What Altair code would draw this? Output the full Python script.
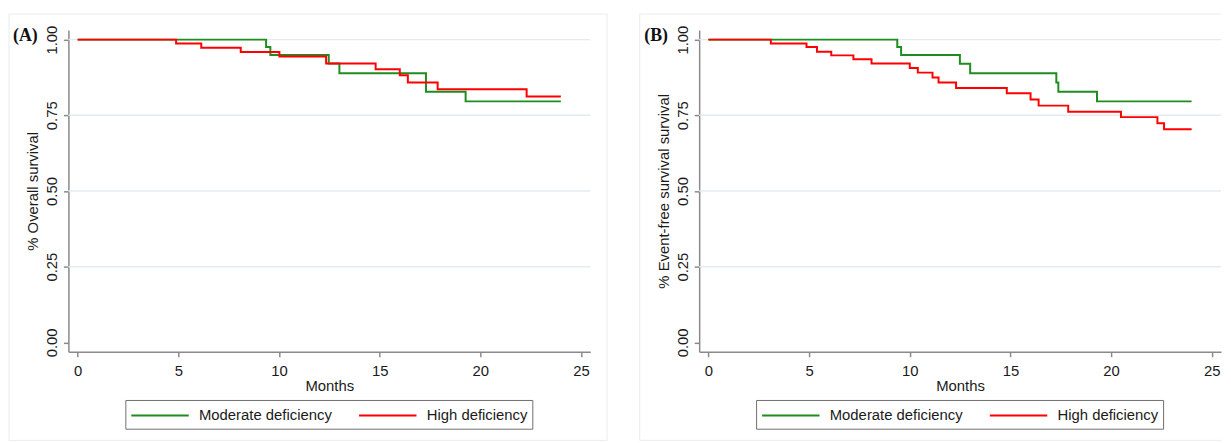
import altair as alt
import pandas as pd

groups = ["Moderate deficiency", "High deficiency"]
colors = ["#1e8c1e", "#ff0000"]

# Panel A: overall survival
a_mod_t = [0, 9.36, 9.57, 12.47, 13.0, 17.3, 19.27, 24.0]
a_mod_s = [1.0, 0.976, 0.949, 0.921, 0.889, 0.828, 0.796, 0.796]
a_high_t = [0, 4.89, 6.14, 8.1, 10.02, 12.34, 14.8, 16.0, 16.4, 17.88, 22.3, 24.0]
a_high_s = [1.0, 0.987, 0.973, 0.959, 0.944, 0.921, 0.902, 0.882, 0.858, 0.836, 0.812, 0.812]

# Panel B: event-free survival
b_mod_t = [0, 9.38, 9.57, 12.49, 13.0, 17.28, 17.38, 19.3, 24.0]
b_mod_s = [1.0, 0.976, 0.949, 0.920, 0.889, 0.858, 0.828, 0.796, 0.796]
b_high_t = [0, 3.1, 4.87, 5.39, 6.1, 7.2, 8.1, 10.0, 10.4, 11.13, 11.43, 12.3,
            14.82, 16.0, 16.4, 17.87, 20.49, 22.3, 22.63, 24.0]
b_high_s = [1.0, 0.987, 0.976, 0.960, 0.948, 0.935, 0.921, 0.906, 0.891, 0.875, 0.858, 0.840,
            0.823, 0.802, 0.782, 0.762, 0.744, 0.724, 0.704, 0.704]

month_ticks = [0, 5, 10, 15, 20, 25]
surv_ticks = [0.0, 0.25, 0.5, 0.75, 1.0]
grid_vals = [0.25, 0.5, 0.75, 1.0]

titles_y = ["% Overall survival", "% Event-free survival survival"]
tags = ["(A)", "(B)"]

W, H = 527, 325
XDOM = [-0.46, 25.46]
YDOM = [-0.031, 1.032]
AXC = "#8a8a8a"
TXT = "#1a1a1a"
FONT = "Liberation Sans"
FRAME = "#e6edf2"

# legend line symbol: nominal box sqrt(size), path drawn 3x as long
SYM = 19.33


def curve_df(mod_t, mod_s, high_t, high_s):
    rows = []
    for g, ts, ss in [(groups[0], mod_t, mod_s), (groups[1], high_t, high_s)]:
        for i, (t, s) in enumerate(zip(ts, ss)):
            rows.append({"group": g, "order": i, "t": t, "s": s})
    return pd.DataFrame(rows)


def panel(df, ytitle, tag, right_frame):
    xs = alt.Scale(domain=XDOM, nice=False, zero=False)
    ys = alt.Scale(domain=YDOM, nice=False, zero=False)
    xaxis = alt.Axis(values=month_ticks, format="d", title="Months",
                     titleFont=FONT, titleFontSize=15, titleFontWeight="normal",
                     titleColor=TXT, titlePadding=0,
                     labelFont=FONT, labelFontSize=15, labelColor=TXT, labelPadding=7,
                     tickSize=5, tickColor=AXC, tickWidth=1.5,
                     domainColor=AXC, domainWidth=1.5, grid=False,
                     labelFlush=False, labelOverlap=False)
    yaxis = alt.Axis(values=surv_ticks, format=".2f", title=ytitle,
                     titleFont=FONT, titleFontSize=15, titleFontWeight="normal",
                     titleColor=TXT, titleAngle=270, titlePadding=4,
                     labelFont=FONT, labelFontSize=15, labelColor=TXT,
                     labelAngle=270, labelAlign="center", labelBaseline="alphabetic",
                     labelPadding=7, tickSize=5, tickColor=AXC, tickWidth=1.5,
                     domainColor=AXC, domainWidth=1.5, grid=False,
                     labelFlush=False, labelOverlap=False)

    grid = alt.Chart(pd.DataFrame({"s": grid_vals})).mark_rule(
        color="#e3ebf1", strokeWidth=1.5
    ).encode(y=alt.Y("s:Q", scale=ys, axis=yaxis))

    lines = alt.Chart(df).mark_line(interpolate="step-after", strokeWidth=2).encode(
        x=alt.X("t:Q", scale=xs, axis=xaxis),
        y=alt.Y("s:Q", scale=ys, axis=yaxis),
        color=alt.Color("group:N", scale=alt.Scale(domain=groups, range=colors),
                        legend=alt.Legend(orient="none", legendX=57.5, legendY=373.7,
                                          direction="horizontal", title=None,
                                          symbolType="M-1,0H5", symbolSize=SYM * SYM,
                                          symbolStrokeWidth=2, symbolFillColor="transparent",
                                          labelFont=FONT, labelFontSize=15,
                                          labelColor=TXT, labelOffset=2 * SYM + 9,
                                          columnPadding=23, padding=4.7,
                                          strokeColor="#6e6e6e", labelLimit=300)),
        order=alt.Order("order:Q"),
    )

    one = pd.DataFrame({"k": [0]})
    fr_right = 544 if right_frame else W
    frame_layers = [
        alt.Chart(one).mark_rule(color=FRAME, strokeWidth=1).encode(
            x=alt.value(-60), x2=alt.value(fr_right), y=alt.value(-16)),
        alt.Chart(one).mark_rule(color=FRAME, strokeWidth=1).encode(
            x=alt.value(-60), x2=alt.value(fr_right), y=alt.value(414.5)),
        alt.Chart(one).mark_rule(color=FRAME, strokeWidth=1).encode(
            x=alt.value(-60), y=alt.value(-16), y2=alt.value(414.5)),
    ]
    if right_frame:
        frame_layers.append(
            alt.Chart(one).mark_rule(color=FRAME, strokeWidth=1).encode(
                x=alt.value(544), y=alt.value(-16), y2=alt.value(414.5)))

    label = alt.Chart(one).mark_text(
        font="Liberation Serif", fontWeight="bold", fontSize=18, color="#111111",
        align="center", baseline="middle"
    ).encode(x=alt.value(-43.5), y=alt.value(6.3), text=alt.value(tag))

    return alt.layer(*frame_layers, grid, lines, label).properties(width=W, height=H)


pa = panel(curve_df(a_mod_t, a_mod_s, a_high_t, a_high_s), titles_y[0], tags[0], True)
pb = panel(curve_df(b_mod_t, b_mod_s, b_high_t, b_high_s), titles_y[1], tags[1], False)

chart = alt.hconcat(pa, pb, spacing=31).resolve_scale(
    color="independent", x="independent", y="independent"
).resolve_legend(color="independent").properties(
    padding={"left": 0, "top": 3, "right": 0, "bottom": 0},
    background="white",
).configure_view(stroke="transparent")

chart.save("out.html", embed_options={"renderer": "svg", "actions": False})
